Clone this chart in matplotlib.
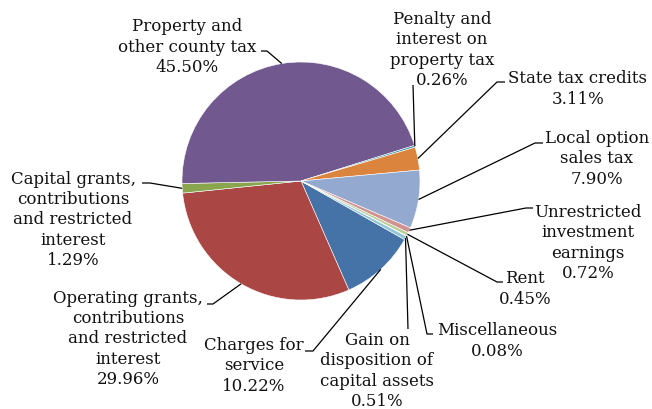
import numpy as np
import matplotlib.pyplot as plt

# Dados do gráfico (ordem da série, sentido horário)
categorias = [
    'Charges for\nservice',
    'Operating grants,\ncontributions\nand restricted\ninterest',
    'Capital grants,\ncontributions\nand restricted\ninterest',
    'Property and\nother county tax',
    'Penalty and\ninterest on\nproperty tax',
    'State tax credits',
    'Local option\nsales tax',
    'Unrestricted\ninvestment\nearnings',
    'Rent',
    'Miscellaneous',
    'Gain on\ndisposition of\ncapital assets',
]
percentuais = [10.22, 29.96, 1.29, 45.50, 0.26, 3.11, 7.90, 0.72, 0.45, 0.08, 0.51]
cores = ['#4572A7', '#AA4643', '#89A54E', '#71588F', '#4198AF', '#DB843D',
         '#93A9CF', '#D19392', '#B9CD96', '#A99BBD', '#92C5D6']

# Posição do texto (centro do bloco), cotovelo e fim do traço — em pixels a partir do topo
pos_texto = [(254, 366), (128, 339), (73, 220), (187, 47), (442, 50), (578, 89),
             (597, 159), (588, 243), (525, 289), (497, 341), (377, 371)]
cotovelo = [(313, 352), (213, 305), (150, 184), (267, 52), (413, 86), (497, 83),
            (535, 144), (526, 209), (497, 283), (427, 335), (408, 330)]
fim_traco = [(305, 352), (207, 305), (142, 184), (261, 52), None, (505, 83),
             (543, 144), (533, 209), (503, 283), (433, 335), None]

W, H = 652, 410
CENTRO = (301, H - 182)
RAIO = 119
INICIO = -29.5

fig = plt.figure(figsize=(W / 100, H / 100), dpi=100)
ax = fig.add_axes([0, 0, 1, 1])

fatias, _ = ax.pie(percentuais, colors=cores, startangle=INICIO, counterclock=False,
                   center=CENTRO, radius=RAIO,
                   wedgeprops=dict(edgecolor='white', linewidth=0.4))

ax.set_xlim(0, W)
ax.set_ylim(0, H)
ax.set_aspect('equal')
ax.axis('off')

for i, fatia in enumerate(fatias):
    ang = np.deg2rad((fatia.theta1 + fatia.theta2) / 2)
    ancora = (CENTRO[0] + RAIO * np.cos(ang), CENTRO[1] + RAIO * np.sin(ang))
    ex, ey = cotovelo[i]
    xs = [ancora[0], ex]
    ys = [ancora[1], H - ey]
    if fim_traco[i] is not None:
        xs.append(fim_traco[i][0])
        ys.append(H - fim_traco[i][1])
    ax.plot(xs, ys, color='black', linewidth=0.9, solid_capstyle='butt')

    tx, ty = pos_texto[i]
    rotulo = f"{categorias[i]}\n{percentuais[i]:.2f}%"
    ax.text(tx, H - ty, rotulo, ha='center', va='center', multialignment='center',
            fontsize=12, family='DejaVu Serif', color='#111111', linespacing=1.25)

fig.savefig('out.png', dpi=100)
